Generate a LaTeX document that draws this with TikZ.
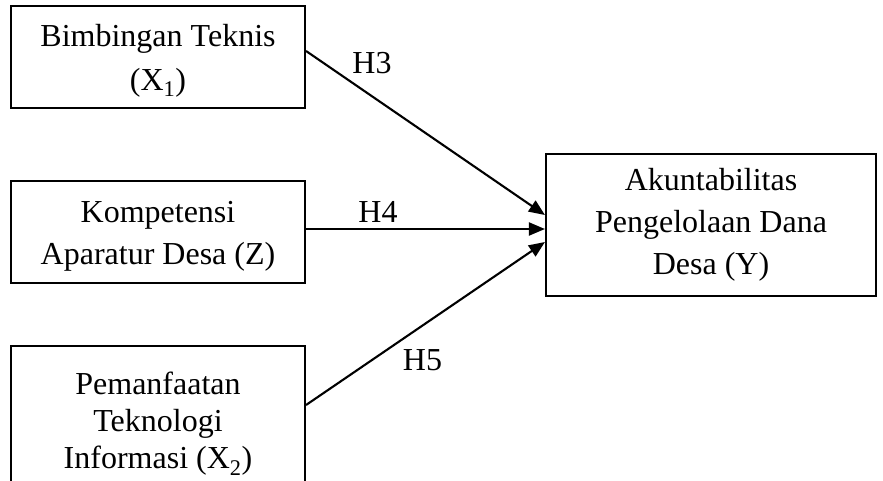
\documentclass[tikz,border=0pt]{standalone}
\usepackage{fontspec}
\setmainfont{Liberation Serif}
\usetikzlibrary{arrows.meta}
\begin{document}
\begin{tikzpicture}[x=1pt,y=-1pt,
  varbox/.style={draw,line width=2.1pt,minimum width=294pt,align=center,inner sep=0pt,
    font=\fontsize{32}{44}\selectfont},
  conn/.style={line width=2.1pt,-{Triangle[length=16pt,width=13pt]}},
  hlabel/.style={inner sep=0pt,font=\fontsize{32}{44}\selectfont}]
\useasboundingbox (0,0) rectangle (883,481);
\clip (0,0) rectangle (883,481);
\node[varbox,minimum height=102pt] (b1) at (158,57) {\rule{0pt}{30pt}Bimbingan Teknis\\(X\textsubscript{1})};
\node[varbox,minimum height=102pt] (b2) at (158,232) {\rule{0pt}{30pt}Kompetensi\\[-2pt]Aparatur Desa (Z)};
\node[varbox,minimum height=156pt,font=\fontsize{32}{37}\selectfont] (b3) at (158,424) {Pemanfaatan\\Teknologi\\Informasi (X\textsubscript{2})};
\node[varbox,minimum width=330pt,minimum height=142pt,font=\fontsize{32}{42}\selectfont] (y) at (711,225) {Akuntabilitas\\Pengelolaan Dana\\Desa (Y)};
\draw[conn] ([yshift=6pt]b1.east) -- ([yshift=10pt]y.west);
\draw[conn] ([yshift=3pt]b2.east) -- ([yshift=-4pt]y.west);
\draw[conn] ([yshift=19pt]b3.east) -- ([yshift=-17pt]y.west);
\node[hlabel] (h3) at (372,63) {H3};
\node[hlabel] (h4) at (378,211.5) {H4};
\node[hlabel] (h5) at (422.5,360) {H5};
\end{tikzpicture}
\end{document}
